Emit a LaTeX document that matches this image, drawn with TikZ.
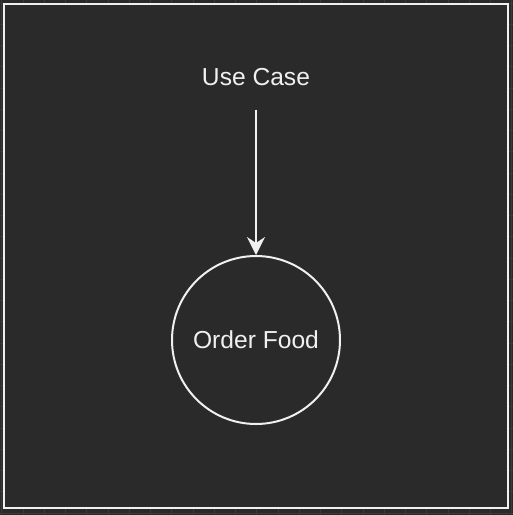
\documentclass[tikz,border=0pt]{standalone}
\usepackage{fontspec}
\setmainfont{Liberation Sans}
\usetikzlibrary{arrows.meta}
\definecolor{bgc}{HTML}{2A2A2A}
\definecolor{gridc}{HTML}{3A3A3A}
\definecolor{fgc}{HTML}{F0F0F0}
\tikzset{
  lbl/.style={text=fgc, font=\fontsize{24.6}{29}\selectfont, inner sep=0pt},
  usecase/.style={circle, draw=fgc, line width=2pt, minimum size=168pt, inner sep=0pt, text=fgc, font=\fontsize{24.6}{29}\selectfont},
  conn/.style={draw=fgc, line width=2pt, -{Stealth[length=18pt,width=18pt,inset=6pt]}},
}
\begin{document}
\begin{tikzpicture}[x=1pt,y=-1pt]
\useasboundingbox (0,0) rectangle (513,515);
\fill[bgc] (0,0) rectangle (513,515);
\foreach \i in {0,...,24} {
  \draw[gridc, line width=0.8pt] ({1.75+21.25*\i},0) -- ({1.75+21.25*\i},515);
  \draw[gridc, line width=0.8pt] (0,{3+21.25*\i}) -- (513,{3+21.25*\i});
}
\draw[fgc, fill=bgc, line width=2pt] (4,4) rectangle (507.7,507.7);
\node[lbl, anchor=base] (title) at (256,85.7) {Use Case};
\coordinate (start) at (256,109.7);
\node[usecase] (of) at (256,340) {Order Food};
\draw[conn] (start) -- (of.north);
\end{tikzpicture}
\end{document}
